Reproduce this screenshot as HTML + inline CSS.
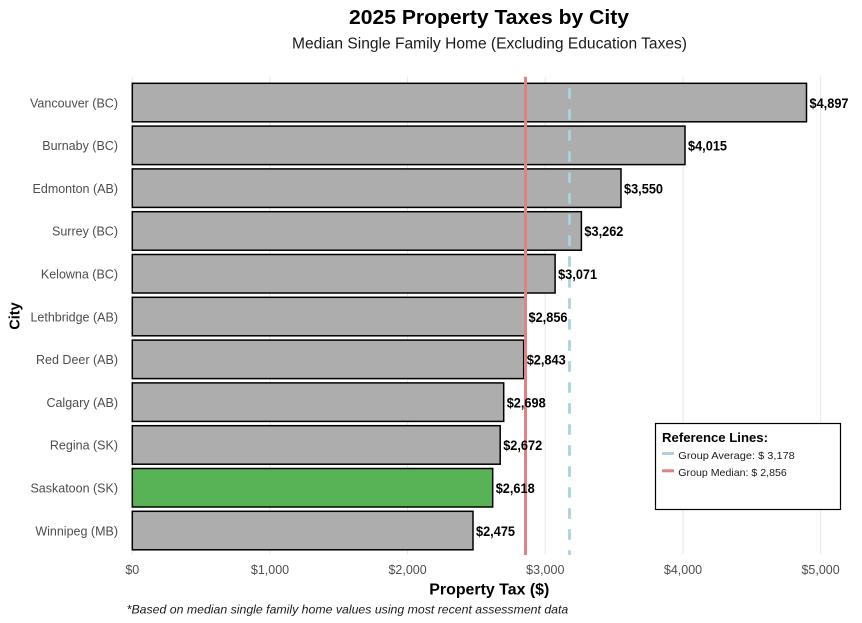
<!DOCTYPE html>
<html>
<head>
<meta charset="utf-8">
<style>
  html, body { margin:0; padding:0; background:#ffffff; }
  svg { display:block; }
  text { font-family: "Liberation Sans", Arial, sans-serif; }
</style>
</head>
<body>
<svg width="862" height="623" viewBox="0 0 862 623" xmlns="http://www.w3.org/2000/svg">
  <rect x="0" y="0" width="862" height="623" fill="#ffffff"/>

  <!-- Title -->
  <text x="489" y="24" text-anchor="middle" font-size="20.5" font-weight="bold" fill="#000" textLength="280" lengthAdjust="spacingAndGlyphs">2025 Property Taxes by City</text>
  <text x="489.5" y="48.5" text-anchor="middle" font-size="15.5" fill="#1a1a1a" textLength="395" lengthAdjust="spacingAndGlyphs">Median Single Family Home (Excluding Education Taxes)</text>

  <!-- gridlines -->
  <g stroke="#e6e6e6" stroke-width="1">
    <line x1="132.3" y1="76.7" x2="132.3" y2="554"/>
    <line x1="270" y1="76.7" x2="270" y2="554"/>
    <line x1="407.6" y1="76.7" x2="407.6" y2="554"/>
    <line x1="545.3" y1="76.7" x2="545.3" y2="554"/>
    <line x1="683" y1="76.7" x2="683" y2="554"/>
    <line x1="820.6" y1="76.7" x2="820.6" y2="554"/>
  </g>

  <!-- bars -->
  <g stroke="#000" stroke-width="1.5">
    <rect x="132.3" y="83.3" width="674.2" height="38.5" fill="#adadad"/>
    <rect x="132.3" y="126.1" width="552.7" height="38.5" fill="#adadad"/>
    <rect x="132.3" y="168.9" width="488.7" height="38.5" fill="#adadad"/>
    <rect x="132.3" y="211.7" width="449.1" height="38.5" fill="#adadad"/>
    <rect x="132.3" y="254.5" width="422.8" height="38.5" fill="#adadad"/>
    <rect x="132.3" y="297.3" width="393.2" height="38.5" fill="#adadad"/>
    <rect x="132.3" y="340.1" width="391.4" height="38.5" fill="#adadad"/>
    <rect x="132.3" y="382.9" width="371.4" height="38.5" fill="#adadad"/>
    <rect x="132.3" y="425.7" width="367.9" height="38.5" fill="#adadad"/>
    <rect x="132.3" y="468.5" width="360.4" height="38.5" fill="#57b356"/>
    <rect x="132.3" y="511.3" width="340.7" height="38.5" fill="#adadad"/>
  </g>

  <!-- reference lines -->
  <line x1="525.5" y1="76.7" x2="525.5" y2="555" stroke="#e38080" stroke-width="3"/>
  <line x1="569.5" y1="88.3" x2="569.5" y2="555" stroke="#a8d3df" stroke-width="2.8" stroke-dasharray="10.5 10.5"/>

  <!-- value labels -->
  <g font-size="13.5" font-weight="bold" fill="#000">
    <text x="809.5" y="107.8" textLength="39" lengthAdjust="spacingAndGlyphs">$4,897</text>
    <text x="688" y="150.6" textLength="39" lengthAdjust="spacingAndGlyphs">$4,015</text>
    <text x="624" y="193.4" textLength="39" lengthAdjust="spacingAndGlyphs">$3,550</text>
    <text x="584.4" y="236.2" textLength="39" lengthAdjust="spacingAndGlyphs">$3,262</text>
    <text x="558.1" y="279" textLength="39" lengthAdjust="spacingAndGlyphs">$3,071</text>
    <text x="528.5" y="321.8" textLength="39" lengthAdjust="spacingAndGlyphs">$2,856</text>
    <text x="526.7" y="364.6" textLength="39" lengthAdjust="spacingAndGlyphs">$2,843</text>
    <text x="506.7" y="407.4" textLength="39" lengthAdjust="spacingAndGlyphs">$2,698</text>
    <text x="503.2" y="450.2" textLength="39" lengthAdjust="spacingAndGlyphs">$2,672</text>
    <text x="495.7" y="493" textLength="39" lengthAdjust="spacingAndGlyphs">$2,618</text>
    <text x="476" y="535.8" textLength="39" lengthAdjust="spacingAndGlyphs">$2,475</text>
  </g>

  <!-- y axis labels -->
  <g font-size="12.5" fill="#4d4d4d" text-anchor="end">
    <text x="118" y="107.3">Vancouver (BC)</text>
    <text x="118" y="150.1">Burnaby (BC)</text>
    <text x="118" y="192.9">Edmonton (AB)</text>
    <text x="118" y="235.7">Surrey (BC)</text>
    <text x="118" y="278.5">Kelowna (BC)</text>
    <text x="118" y="321.3">Lethbridge (AB)</text>
    <text x="118" y="364.1">Red Deer (AB)</text>
    <text x="118" y="406.9">Calgary (AB)</text>
    <text x="118" y="449.7">Regina (SK)</text>
    <text x="118" y="492.5">Saskatoon (SK)</text>
    <text x="118" y="535.3">Winnipeg (MB)</text>
  </g>

  <!-- y axis title -->
  <text x="0" y="0" transform="translate(19.5,316) rotate(-90)" text-anchor="middle" font-size="14.5" font-weight="bold" fill="#000">City</text>

  <!-- x axis ticks -->
  <g font-size="12.5" fill="#4d4d4d" text-anchor="middle">
    <text x="132.3" y="574">$0</text>
    <text x="270" y="574">$1,000</text>
    <text x="407.6" y="574">$2,000</text>
    <text x="545.3" y="574">$3,000</text>
    <text x="683" y="574">$4,000</text>
    <text x="820.6" y="574">$5,000</text>
  </g>

  <!-- x axis title -->
  <text x="489.3" y="594.5" text-anchor="middle" font-size="15.5" font-weight="bold" fill="#000" textLength="120" lengthAdjust="spacingAndGlyphs">Property Tax ($)</text>

  <!-- caption -->
  <text x="126.7" y="613.3" font-size="12" font-style="italic" fill="#1a1a1a" textLength="441.6" lengthAdjust="spacingAndGlyphs">*Based on median single family home values using most recent assessment data</text>

  <!-- legend -->
  <rect x="655.5" y="423.5" width="185" height="86" fill="#ffffff" stroke="#000" stroke-width="1.2"/>
  <text x="662" y="441.8" font-size="12.5" font-weight="bold" fill="#000" textLength="106" lengthAdjust="spacingAndGlyphs">Reference Lines:</text>
  <line x1="662" y1="453.5" x2="674" y2="453.5" stroke="#a8d3df" stroke-width="3"/>
  <text x="678.3" y="459" font-size="10.5" fill="#1a1a1a" textLength="116.5" lengthAdjust="spacingAndGlyphs">Group Average: $ 3,178</text>
  <line x1="662" y1="470.8" x2="674" y2="470.8" stroke="#e38080" stroke-width="3"/>
  <text x="678.3" y="476.2" font-size="10.5" fill="#1a1a1a" textLength="108.5" lengthAdjust="spacingAndGlyphs">Group Median: $ 2,856</text>
</svg>
</body>
</html>
